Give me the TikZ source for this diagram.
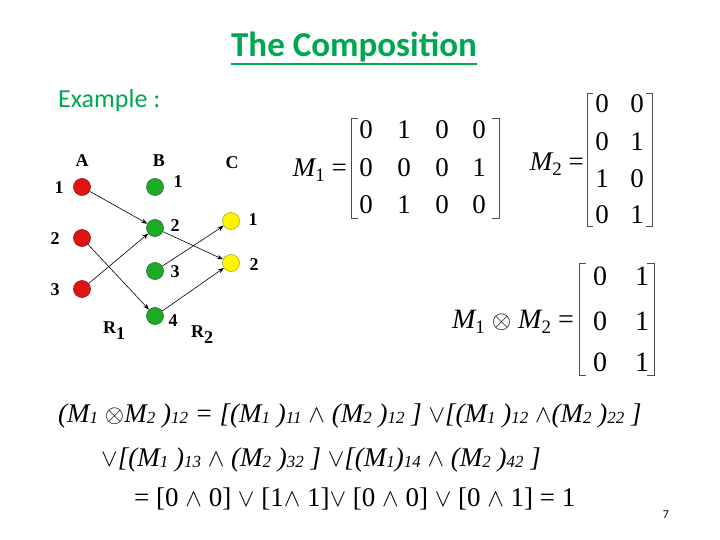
\documentclass[tikz,border=0pt]{standalone}
\usepackage{fontspec}
\setmainfont{Liberation Serif}
\newfontfamily\carl{Carlito}
\usetikzlibrary{arrows.meta}
\definecolor{ttlgreen}{RGB}{0,166,80}
\definecolor{dotred}{RGB}{225,20,20}
\definecolor{dotgreen}{RGB}{30,170,40}
\definecolor{dotyellow}{RGB}{255,245,0}
\newcommand\lo[1]{\raisebox{-1.5pt}{\fontsize{17}{17}\selectfont\itshape #1}}
\newcommand\ms[1]{\raisebox{-5pt}{\fontsize{19}{19}\selectfont #1}}
\newcommand\mi{{\itshape M}}
\begin{document}
\begin{tikzpicture}[x=1pt,y=-1pt,
  dot/.style={circle,draw=#1!70!black,fill=#1,minimum size=17pt,inner sep=0pt,line width=0.6pt},
  lbl/.style={font=\fontsize{18}{18}\selectfont\bfseries,inner sep=0pt},
  arr/.style={-{Stealth[length=6pt,width=4.5pt]},line width=0.6pt},
  num/.style={font=\fontsize{27}{27}\selectfont,inner sep=0pt},
  pnum/.style={font=\fontsize{28}{28}\selectfont,inner sep=0pt},
  brk/.style={line width=0.8pt,draw=black!70},
  eq/.style={font=\fontsize{27}{30}\selectfont,inner sep=0pt,anchor=base west}]
\useasboundingbox (0,0) rectangle (720,540);
% title
\node[font=\carl\bfseries\fontsize{35}{35}\selectfont,text=ttlgreen,inner sep=0pt] (title) at (354,47) {The Composition};
\draw[ttlgreen,line width=1.8pt] (title.south west)++(0,2) coordinate (u1) -- (title.south east|-u1);
\node[font=\carl\fontsize{26}{26}\selectfont,text=ttlgreen,anchor=west,inner sep=0pt] (ex) at (58,101) {Example :};
% graph
\node[dot=dotred] (a1) at (82,187) {};
\node[dot=dotred] (a2) at (82,238) {};
\node[dot=dotred] (a3) at (82,289) {};
\node[dot=dotgreen] (b1) at (155,187) {};
\node[dot=dotgreen] (b2) at (155,228) {};
\node[dot=dotgreen] (b3) at (155,271) {};
\node[dot=dotgreen] (b4) at (155,316) {};
\node[dot=dotyellow] (c1) at (231,221) {};
\node[dot=dotyellow] (c2) at (231,263) {};
\node[lbl] (la) at (82,161) {A};
\node[lbl] (lb) at (159,161) {B};
\node[lbl] (lc) at (232,163) {C};
\node[lbl] (la1) at (59,188) {1};
\node[lbl] (la2) at (55,239) {2};
\node[lbl] (la3) at (55,290) {3};
\node[lbl] (lb1) at (178,182) {1};
\node[lbl] (lb2) at (175,226) {2};
\node[lbl] (lb3) at (175,272) {3};
\node[lbl] (lb4) at (173,321) {4};
\node[lbl] (lc1) at (253,220) {1};
\node[lbl] (lc2) at (254,265) {2};
\node[lbl] (r1) at (114,331) {R\raisebox{-6pt}{1}};
\node[lbl] (r2) at (202,335) {R\raisebox{-6pt}{2}};
\draw[arr] (a1) -- (b2);
\draw[arr] (a2) -- (b4);
\draw[arr] (a3) -- (b2);
\draw[arr] (b2) -- (c2);
\draw[arr] (b3) -- (c1);
\draw[arr] (b4) -- (c2);
% M1
\node[font=\fontsize{27}{27}\selectfont,inner sep=0pt,anchor=east] (m1l) at (347,170) {\mi\ms{1} =};
\draw[brk] (358,118) -- (351,118) -- (351,218) -- (358,218);
\draw[brk] (492,118) -- (499,118) -- (499,218) -- (492,218);
\foreach \r/\y in {1/130,2/168,3/205}{
  \foreach \c/\x in {1/366,2/404,3/442,4/479}{
    \coordinate (m1-\r-\c) at (\x,\y);}}
\node[num] at (m1-1-1) {0}; \node[num] at (m1-1-2) {1}; \node[num] at (m1-1-3) {0}; \node[num] at (m1-1-4) {0};
\node[num] at (m1-2-1) {0}; \node[num] at (m1-2-2) {0}; \node[num] at (m1-2-3) {0}; \node[num] at (m1-2-4) {1};
\node[num] at (m1-3-1) {0}; \node[num] at (m1-3-2) {1}; \node[num] at (m1-3-3) {0}; \node[num] at (m1-3-4) {0};
% M2
\node[font=\fontsize{27}{27}\selectfont,inner sep=0pt,anchor=east] (m2l) at (584,164) {\mi\ms{2} =};
\draw[brk] (593,93) -- (587,93) -- (587,226) -- (593,226);
\draw[brk] (646,93) -- (652,93) -- (652,226) -- (646,226);
\node[num] (m2a) at (602,104) {0}; \node[num] (m2b) at (637,104) {0};
\node[num] (m2c) at (602,142) {0}; \node[num] (m2d) at (637,142) {1};
\node[num] (m2e) at (602,179) {1}; \node[num] (m2f) at (637,179) {0};
\node[num] (m2g) at (602,215) {0}; \node[num] (m2h) at (637,215) {1};
% product
\node[font=\fontsize{28}{28}\selectfont,inner sep=0pt,anchor=east] (pl) at (574,322) {\mi\ms{1} $\otimes$ \mi\ms{2} =};
\draw[brk] (586,263) -- (579,263) -- (579,375) -- (586,375);
\draw[brk] (647,263) -- (654,263) -- (654,375) -- (647,375);
\node[pnum] (p1) at (600,276) {0}; \node[pnum] (p2) at (642,276) {1};
\node[pnum] (p3) at (600,321) {0}; \node[pnum] (p4) at (642,321) {1};
\node[pnum] (p5) at (600,362) {0}; \node[pnum] (p6) at (642,362) {1};
% equations
\node[eq] (e1) at (58,422) {\itshape (M\lo{1} $\otimes$M\lo{2} )\lo{12} = [(M\lo{1} )\lo{11} $\wedge$ (M\lo{2} )\lo{12} ] $\vee$[(M\lo{1} )\lo{12} $\wedge$(M\lo{2} )\lo{22} ]};
\node[eq] (e2) at (101,466) {\itshape $\vee$[(M\lo{1} )\lo{13} $\wedge$ (M\lo{2} )\lo{32} ] $\vee$[(M\lo{1})\lo{14} $\wedge$ (M\lo{2} )\lo{42} ]};
\node[eq] (e3) at (134,506) {= [0 $\wedge$ 0] $\vee$ [1$\wedge$ 1]$\vee$ [0 $\wedge$ 0] $\vee$ [0 $\wedge$ 1] = 1};
\node[font=\carl\fontsize{12}{12}\selectfont,inner sep=0pt] (pg) at (666,515) {7};
\end{tikzpicture}
\end{document}
